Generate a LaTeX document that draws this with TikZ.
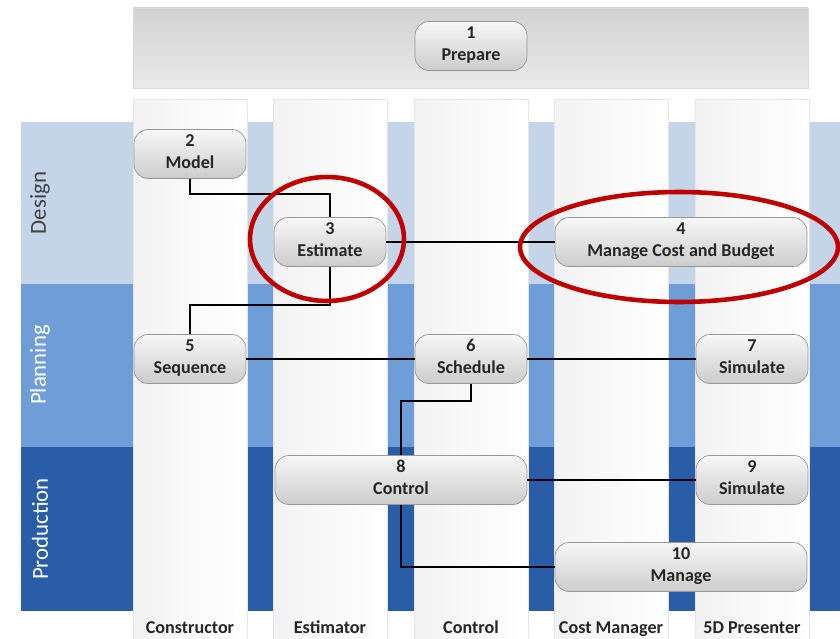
\documentclass[tikz,border=0pt]{standalone}
\usepackage{fontspec}
\setmainfont{Carlito}
\usetikzlibrary{positioning}

\definecolor{designblue}{RGB}{197,213,233}
\definecolor{planblue}{RGB}{110,157,216}
\definecolor{prodblue}{RGB}{42,93,168}
\definecolor{ringred}{RGB}{192,0,0}
\definecolor{boxedge}{RGB}{150,150,150}

\begin{document}
\begin{tikzpicture}[
  x=0.02cm, y=-0.02cm,
  stepbox/.style={draw=boxedge, rounded corners=8pt, top color=white!97!black,
    bottom color=black!20, minimum width=2.24cm, minimum height=0.98cm,
    align=center, inner sep=1pt, text depth=3pt,
    font=\bfseries\fontsize{10.3}{12.5}\selectfont, text=black!85},
  widebox/.style={stepbox, minimum width=5.04cm},
  lanelabel/.style={rotate=90, font=\fontsize{13}{15}\selectfont},
  rolelabel/.style={anchor=base, font=\bfseries\fontsize{10.3}{12}\selectfont, text=black!85},
  link/.style={draw, line width=1.5pt},
  thinlink/.style={draw, line width=1pt},
  ring/.style={draw=ringred, line width=2.6pt}
]
\useasboundingbox (0,0) rectangle (840,639);

% Lanes
\fill[designblue] (21,122) rectangle (840,284);
\fill[planblue] (21,284) rectangle (840,447);
\fill[prodblue] (21,447) rectangle (840,611);
\node[lanelabel, text=black!75] (design) at (40,203) {Design};
\node[lanelabel, text=white] (planning) at (40,365) {Planning};
\node[lanelabel, text=white] (production) at (40,529) {Production};

% Top band
\draw[draw=black!15, top color=black!18, bottom color=black!8] (133,8) rectangle (808,88);

% Role columns
\foreach \x/\role in {190/Constructor, 330/Estimator, 471/Control, 611/Cost Manager, 752/5D Presenter}{
  \draw[draw=black!10, left color=black!5, right color=white] (\x-57,99) rectangle (\x+57,641);
  \node[rolelabel] (role-\x) at (\x,633) {\role};
}

% Steps
\node[stepbox] (prepare) at (471,46) {1\\Prepare};
\node[stepbox] (model) at (190,154) {2\\Model};
\node[stepbox] (estimate) at (330,242) {3\\Estimate};
\node[widebox] (costbudget) at (681,242) {4\\Manage Cost and Budget};
\node[stepbox] (sequence) at (190,359) {5\\Sequence};
\node[stepbox] (schedule) at (471,359) {6\\Schedule};
\node[stepbox] (simfirst) at (752,359) {7\\Simulate};
\node[widebox] (control) at (401,480) {8\\Control};
\node[stepbox] (simsecond) at (752,480) {9\\Simulate};
\node[widebox] (manage) at (681,567) {10\\Manage};

% Connectors
\draw[link] (model.south) -- ++(0,15) -| (estimate.north);
\draw[link] (estimate.east) -- (costbudget.west);
\draw[link] (estimate.south) -- ++(0,38) -| (sequence.north);
\draw[thinlink] (sequence.east) -- (schedule.west);
\draw[thinlink] (schedule.east) -- (simfirst.west);
\draw[link] (schedule.south) -- ++(0,17) -| (control.north);
\draw[link] (control.east) -- (simsecond.west);
\draw[link] (control.south) |- (manage.west);

% Highlight rings
\draw[ring] (327,239) ellipse [x radius=1.54cm, y radius=1.24cm];
\draw[ring] (679,247) ellipse [x radius=3.18cm, y radius=1.1cm];

\end{tikzpicture}
\end{document}
